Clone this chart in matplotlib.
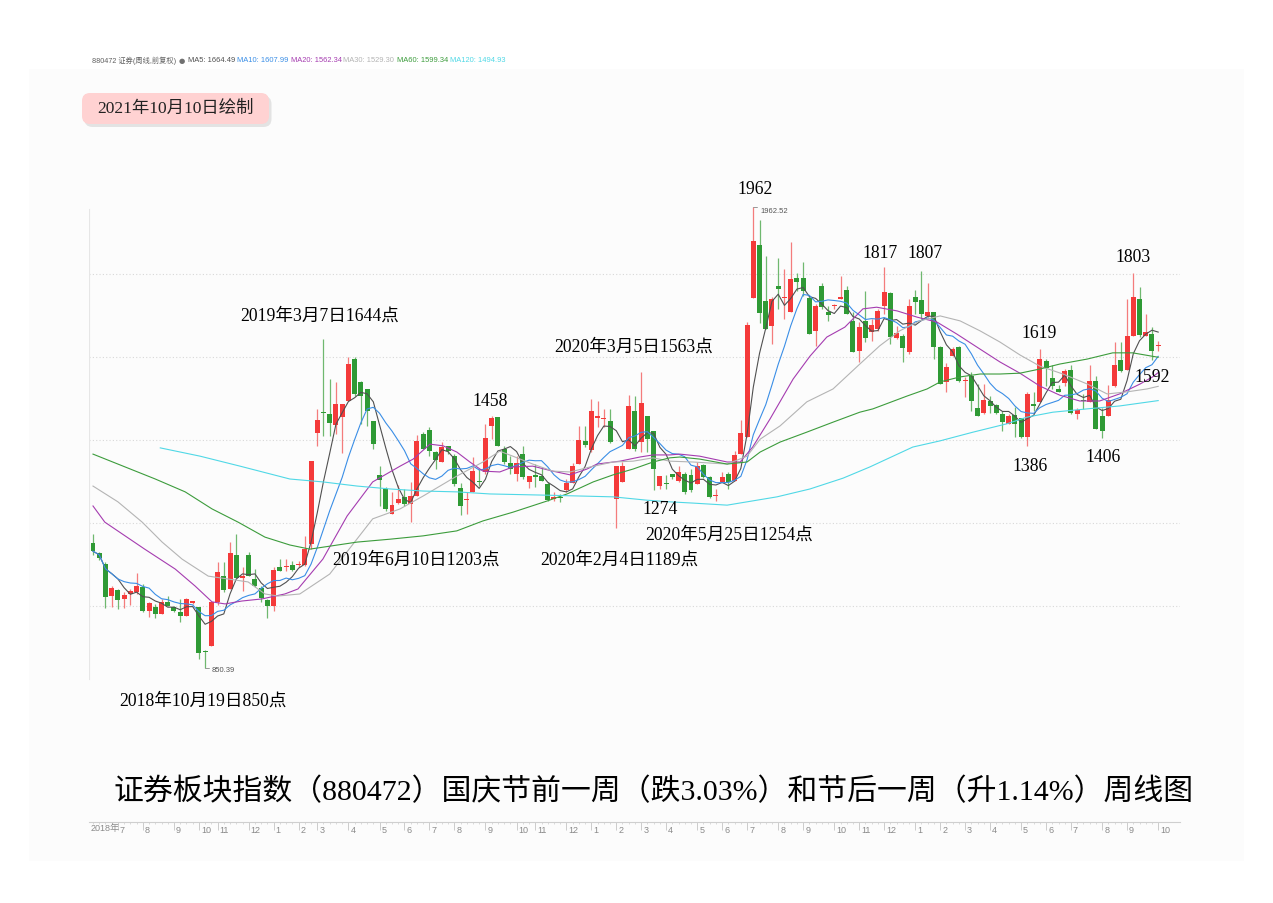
import numpy as np
import pandas as pd
import matplotlib
matplotlib.use('Agg')
import matplotlib.pyplot as plt
from matplotlib.patches import Rectangle, FancyBboxPatch
from matplotlib.transforms import ScaledTranslation

W, H = 1273, 904

# weekly OHLC, 2018-06 .. 2021-10
opens = [1152, 1128, 1101, 1024, 1038, 1017, 1029, 1034, 1046, 988,
         998, 981, 1010, 998, 985, 976, 1007, 998, 891, 904,
         1010, 1072, 1041, 1123, 1067, 1123, 1065, 1043, 1014, 1000,
         1094, 1094, 1099, 1099, 1099, 1149, 1417, 1468, 1463, 1436,
         1455, 1494, 1595, 1540, 1523, 1446, 1316, 1282, 1222, 1248,
         1263, 1246, 1265, 1414, 1424, 1371, 1347, 1386, 1361, 1284,
         1256, 1275, 1301, 1323, 1434, 1455, 1378, 1345, 1318, 1366,
         1299, 1316, 1313, 1294, 1258, 1262, 1280, 1296, 1342, 1398,
         1376, 1453, 1451, 1446, 1258, 1299, 1378, 1470, 1395, 1458,
         1422, 1289, 1295, 1318, 1301, 1318, 1316, 1294, 1340, 1311,
         1265, 1299, 1318, 1301, 1366, 1407, 1742, 1870, 1735, 1675,
         1771, 1742, 1708, 1790, 1790, 1742, 1663, 1771, 1708, 1722,
         1740, 1761, 1687, 1615, 1687, 1660, 1667, 1723, 1754, 1646,
         1651, 1612, 1745, 1737, 1699, 1708, 1624, 1540, 1602, 1624,
         1541, 1554, 1477, 1465, 1494, 1484, 1463, 1439, 1460, 1453,
         1407, 1487, 1492, 1590, 1549, 1523, 1537, 1569, 1463, 1495,
         1492, 1542, 1458, 1458, 1530, 1593, 1569, 1651, 1740, 1651,
         1655, 1626]
highs = [1173, 1131, 1106, 1048, 1041, 1034, 1041, 1079, 1053, 1010,
         1005, 1017, 1024, 1000, 1017, 1019, 1012, 998, 894, 1010,
         1106, 1106, 1154, 1173, 1094, 1130, 1089, 1048, 1017, 1094,
         1113, 1113, 1108, 1108, 1169, 1349, 1475, 1644, 1547, 1540,
         1487, 1600, 1600, 1542, 1523, 1446, 1337, 1287, 1275, 1292,
         1282, 1299, 1412, 1419, 1431, 1373, 1395, 1386, 1366, 1296,
         1275, 1359, 1330, 1439, 1458, 1455, 1386, 1361, 1361, 1386,
         1313, 1342, 1335, 1299, 1275, 1270, 1306, 1345, 1434, 1434,
         1499, 1494, 1475, 1475, 1337, 1347, 1508, 1506, 1563, 1458,
         1422, 1313, 1316, 1318, 1337, 1323, 1330, 1347, 1342, 1313,
         1282, 1323, 1323, 1373, 1448, 1684, 1962.52, 1930, 1843, 1745,
         1839, 1812, 1877, 1802, 1829, 1747, 1728, 1778, 1723, 1728,
         1795, 1771, 1708, 1684, 1759, 1692, 1716, 1817, 1757, 1675,
         1655, 1740, 1761, 1807, 1778, 1708, 1627, 1586, 1624, 1627,
         1552, 1564, 1535, 1535, 1506, 1487, 1470, 1463, 1480, 1453,
         1516, 1516, 1619, 1595, 1581, 1532, 1571, 1581, 1477, 1511,
         1581, 1554, 1477, 1532, 1636, 1636, 1740, 1803, 1769, 1704,
         1672, 1639]
lows = [1123, 1111, 995, 998, 993, 995, 1002, 1029, 985, 973,
        971, 981, 1000, 985, 961, 976, 1005, 872, 850.39, 904,
        1002, 1034, 1041, 1067, 1036, 1072, 1046, 1010, 971, 988,
        1084, 1084, 1084, 1094, 1096, 1137, 1386, 1410, 1410, 1414,
        1369, 1494, 1506, 1439, 1434, 1378, 1241, 1229, 1222, 1246,
        1241, 1203, 1265, 1378, 1361, 1330, 1347, 1366, 1289, 1219,
        1222, 1275, 1289, 1318, 1402, 1386, 1342, 1318, 1301, 1306,
        1284, 1287, 1301, 1253, 1253, 1251, 1275, 1296, 1342, 1383,
        1371, 1431, 1431, 1393, 1189, 1299, 1378, 1373, 1371, 1371,
        1280, 1282, 1282, 1306, 1299, 1270, 1274, 1294, 1308, 1260,
        1254, 1299, 1282, 1301, 1366, 1407, 1742, 1682, 1667, 1631,
        1716, 1692, 1708, 1759, 1747, 1655, 1627, 1716, 1687, 1716,
        1740, 1704, 1612, 1588, 1636, 1639, 1663, 1704, 1631, 1643,
        1588, 1607, 1704, 1692, 1696, 1595, 1535, 1516, 1602, 1540,
        1504, 1470, 1458, 1463, 1465, 1463, 1422, 1439, 1407, 1405,
        1386, 1470, 1492, 1530, 1523, 1516, 1530, 1463, 1451, 1475,
        1492, 1426, 1406, 1458, 1528, 1564, 1569, 1651, 1648, 1651,
        1592, 1614]
closes = [1132, 1115, 1022, 1043, 1014, 1026, 1036, 1048, 988, 1007,
          981, 1010, 1000, 988, 976, 1017, 1012, 887, 888, 1010,
          1082, 1038, 1128, 1067, 1072, 1072, 1048, 1019, 1000, 1087,
          1084, 1096, 1087, 1101, 1137, 1349, 1448, 1465, 1441, 1487,
          1487, 1583, 1511, 1506, 1470, 1390, 1304, 1234, 1243, 1258,
          1246, 1265, 1398, 1378, 1373, 1352, 1383, 1373, 1294, 1241,
          1258, 1325, 1299, 1405, 1453, 1386, 1347, 1330, 1345, 1311,
          1313, 1311, 1301, 1255, 1263, 1260, 1296, 1337, 1400, 1388,
          1470, 1458, 1452, 1395, 1337, 1337, 1482, 1378, 1489, 1402,
          1330, 1313, 1293, 1311, 1323, 1275, 1280, 1337, 1311, 1263,
          1267, 1311, 1299, 1364, 1417, 1677, 1880, 1706, 1667, 1740,
          1764, 1745, 1788, 1781, 1759, 1655, 1723, 1720, 1701, 1725,
          1745, 1704, 1612, 1672, 1646, 1677, 1711, 1757, 1648, 1658,
          1622, 1723, 1733, 1704, 1708, 1624, 1535, 1576, 1619, 1542,
          1543, 1494, 1458, 1496, 1482, 1465, 1443, 1458, 1439, 1407,
          1511, 1482, 1595, 1574, 1530, 1516, 1566, 1465, 1472, 1493,
          1542, 1426, 1422, 1496, 1581, 1566, 1651, 1745, 1653, 1660,
          1614, 1628]

# slower moving averages (candle index, value)
ma20_idx = [0, 1.9, 8.3, 13.2, 16.4, 19.1, 21.2, 23.9, 27.1, 30.8, 32.9, 36.9,
            40.8, 44.9, 49.3, 51.4, 54.1, 56.2, 58.4, 60.5, 62.6, 65.3, 67.4,
            70.6, 73.8, 76.6, 79.3, 80.9, 84.6, 87.8, 89.9, 92.6, 94.2, 97.4,
            101.8, 103.9, 105.9, 108.7, 112.4, 115.1, 117.8, 120.7, 123.6,
            125.8, 129.1, 132.3, 135.5, 138.7, 142.4, 145.6, 148.8, 152, 155.2,
            158.4, 161.6, 164.8, 168.1, 170.1, 171]
ma20_val = [1241, 1202, 1137, 1089, 1048, 1010, 1005, 1012, 1017, 1029, 1041,
            1113, 1217, 1299, 1337, 1354, 1390, 1386, 1371, 1347, 1325, 1323,
            1335, 1337, 1325, 1316, 1330, 1342, 1349, 1359, 1364, 1364, 1366,
            1361, 1347, 1347, 1383, 1451, 1547, 1602, 1648, 1672, 1716, 1720,
            1711, 1696, 1684, 1655, 1619, 1588, 1561, 1530, 1508, 1494, 1494,
            1511, 1535, 1552, 1562.34]
ma30_idx = [0, 4, 7.9, 11.1, 14.3, 18.5, 21.7, 24.9, 27.6, 29.7, 33.2, 38,
            44.9, 49.3, 53, 58.4, 62.6, 65.3, 67.4, 70.6, 73.8, 76.6, 79.8,
            83.5, 86.7, 89.9, 92.6, 96.3, 101.8, 105, 107.1, 110.3, 114.6,
            118.8, 123.1, 126.3, 129.5, 132.7, 136, 139.2, 142.4, 145.6, 148.8,
            152, 155.7, 159.6, 162.8, 166, 169.2, 171]
ma30_val = [1289, 1251, 1202, 1154, 1113, 1072, 1065, 1058, 1029, 1024, 1029,
            1077, 1210, 1234, 1265, 1313, 1347, 1373, 1361, 1342, 1325, 1323,
            1335, 1347, 1349, 1357, 1349, 1347, 1342, 1361, 1402, 1434, 1492,
            1523, 1583, 1627, 1663, 1687, 1699, 1687, 1663, 1636, 1605, 1578,
            1559, 1535, 1511, 1516, 1523, 1529.30]
ma60_idx = [0, 10, 14.8, 19.1, 23.3, 27.6, 31.6, 34.8, 42.4, 47.7, 53, 58.4,
            62.6, 67.4, 72.9, 76.1, 80.3, 83.5, 86.7, 89.9, 92.6, 94.2, 97.4,
            101.8, 105, 107.1, 110.3, 114.6, 118.8, 123.1, 125.2, 130.7, 133.9,
            136, 139.2, 142.4, 145.6, 148.8, 152, 155.2, 159.6, 163.7, 166.9, 171]
ma60_val = [1366, 1306, 1275, 1234, 1202, 1166, 1147, 1137, 1154, 1161, 1169,
            1181, 1205, 1226, 1253, 1270, 1299, 1316, 1330, 1347, 1357, 1359,
            1354, 1342, 1347, 1371, 1395, 1419, 1443, 1467, 1475, 1506, 1523,
            1540, 1552, 1559, 1559, 1561, 1571, 1583, 1595, 1610, 1610, 1599.34]
ma120_idx = [10.8, 17.2, 23.6, 31.6, 36.9, 42.4, 47.7, 53, 58.4, 63.7, 72.9,
             78.2, 83.5, 88.9, 92.6, 96.3, 101.8, 105, 109.8, 115.1, 120.4,
             124.7, 131.6, 136, 141.3, 146.7, 149.9, 154.1, 159.6, 164.8, 171]
ma120_val = [1381, 1361, 1337, 1306, 1299, 1289, 1282, 1277, 1275, 1270, 1267,
             1265, 1263, 1255, 1251, 1248, 1243, 1251, 1263, 1282, 1308, 1335,
             1383, 1398, 1419, 1439, 1455, 1467, 1475, 1482, 1494.93]

month_idx = [4, 8, 13, 17, 20, 25, 29, 33, 36, 41, 46, 50, 54, 58, 63, 68, 71,
             76, 80, 84, 88, 92, 97, 101, 105, 110, 114, 119, 123, 127, 132,
             136, 140, 144, 149, 153, 157, 162, 166, 171]
month_lbl = ['7', '8', '9', '10', '11', '12', '1', '2', '3', '4', '5', '6',
             '7', '8', '9', '10', '11', '12', '1', '2', '3', '4', '5', '6',
             '7', '8', '9', '10', '11', '12', '1', '2', '3', '4', '5', '6',
             '7', '8', '9', '10']

legend_names = ['MA5', 'MA10', 'MA20', 'MA30', 'MA60', 'MA120']
legend_vals = [1664.49, 1607.99, 1562.34, 1529.30, 1599.34, 1494.93]
ma_colors = ['#505050', '#3a8ee6', '#a53cb0', '#b4b4b4', '#3c9c3c', '#50d8e6']

# price labels placed on the chart: (text, x px, y px)
notes = [('1962', 755, 189), ('1817', 880, 254), ('1807', 925, 254),
         ('1803', 1133, 257), ('1619', 1039, 333), ('1592', 1152, 377),
         ('1386', 1030, 467), ('1406', 1103, 457), ('1274', 660, 510),
         ('1458', 490, 401),
         ('2019年3月7日1644点', 320, 316), ('2020年3月5日1563点', 634, 347),
         ('2019年6月10日1203点', 416, 560), ('2020年2月4日1189点', 619, 560),
         ('2020年5月25日1254点', 729, 535), ('2018年10月19日850点', 203, 701)]

title = '证券板块指数（880472）国庆节前一周（跌3.03%）和节后一周（升1.14%）周线图'
serif_cjk = ['Liberation Serif', 'Noto Sans CJK SC']
sans_cjk = ['Liberation Sans', 'Noto Sans CJK SC']

RED = '#f43a3a'
GREEN = '#2f9a35'


def fx(x):
    return x / W


def fy(y):
    return 1 - y / H


fig = plt.figure(figsize=(W / 100, H / 100), dpi=100)
fig.patch.set_facecolor('white')
fig.patches.append(Rectangle((fx(29), fy(862)), fx(1244) - fx(29), fy(70) - fy(862),
                             transform=fig.transFigure, facecolor='#fcfcfc',
                             edgecolor='none', zorder=-10))

# main price panel
x0, x1 = -0.642, 174.5
ax = fig.add_axes([fx(89), fy(690), fx(1180) - fx(89), fy(180) - fy(690)])
ax.set_zorder(2)
ax.set_xlim(x0, x1)
ax.set_ylim(800, 2028.9)
ax.axis('off')
ax.patch.set_alpha(0)

for g in [1000, 1200, 1400, 1600, 1800]:
    ax.axhline(g, color='#d8d8d8', lw=0.8, ls=(0, (1, 2)), zorder=1)
ax.plot([x0 + 0.05, x0 + 0.05], [824, 1956], color='#e6e6e6', lw=0.8, zorder=1)

o = np.array(opens, dtype=float)
c = np.array(closes, dtype=float)
hi = np.array(highs, dtype=float)
lo = np.array(lows, dtype=float)
idx = np.arange(len(c))
up = c >= o
body_col = np.where(up, RED, GREEN)
wick_col = np.where(up, '#f47c7c', '#6fb86f')

ax.vlines(idx, lo, hi, colors=wick_col, lw=0.9, zorder=2)
ax.bar(idx, np.maximum(np.abs(c - o), 2.5), bottom=np.minimum(o, c), width=0.8,
       color=body_col, zorder=3)

# moving averages
s = pd.Series(c)
ax.plot(idx, s.rolling(5, min_periods=1).mean(), color=ma_colors[0], lw=0.8, zorder=4)
ax.plot(idx, s.rolling(10, min_periods=1).mean(), color=ma_colors[1], lw=0.8, zorder=4)
ax.plot(ma20_idx, ma20_val, color=ma_colors[2], lw=0.8, zorder=4)
ax.plot(ma30_idx, ma30_val, color=ma_colors[3], lw=0.8, zorder=4)
ax.plot(ma60_idx, ma60_val, color=ma_colors[4], lw=0.8, zorder=4)
ax.plot(ma120_idx, ma120_val, color=ma_colors[5], lw=0.8, zorder=4)

# high / low markers
i_hi = int(np.argmax(hi))
i_lo = int(np.argmin(lo))
for i_m, val, dy in [(i_hi, hi[i_hi], -3), (i_lo, lo[i_lo], -1)]:
    ax.annotate('%.2f' % val, xy=(i_m, val), xytext=(5, dy),
                textcoords='offset points', fontsize=5.5, color='#555555',
                va='center', ha='left', family=sans_cjk,
                arrowprops=dict(arrowstyle='-', color='#888888', lw=0.6,
                                shrinkA=0, shrinkB=0,
                                connectionstyle='angle,angleA=90,angleB=0'))

# bottom time axis
ax2 = fig.add_axes([fx(89), fy(823), fx(1180) - fx(89), 0.0005])
ax2.set_zorder(2)
ax2.set_xlim(x0, x1)
ax2.patch.set_alpha(0)
ax2.set_yticks([])
for side in ['top', 'left', 'right']:
    ax2.spines[side].set_visible(False)
ax2.spines['bottom'].set_color('#cfcfcf')
ax2.set_xticks(month_idx)
ax2.set_xticklabels(month_lbl)
ax2.set_xticks(idx, minor=True)
ax2.tick_params(axis='x', which='major', length=6, width=0.6, color='#c4c4c4',
                labelsize=6.5, labelcolor='#8a8a8a', pad=-4)
ax2.tick_params(axis='x', which='minor', length=1.5, width=0.5, color='#cccccc')
offset = ScaledTranslation(2 / 100, 0, fig.dpi_scale_trans)
for lab in ax2.get_xticklabels():
    lab.set_ha('left')
    lab.set_family(sans_cjk)
    lab.set_transform(lab.get_transform() + offset)
fig.text(fx(91), fy(829), '2018年', fontsize=6.5, color='#8a8a8a', ha='left',
         va='center', family=sans_cjk)

# legend row at top
fig.text(fx(92), fy(61), '880472 证券(周线,前复权)', fontsize=5.2, color='#606060',
         ha='left', va='center', family=sans_cjk)
fig.text(fx(179), fy(61), '●', fontsize=5.2, color='#707070', ha='left', va='center',
         family=['DejaVu Sans'])
leg_x = [188, 237, 291, 343, 397, 450]
for name, val, col, lx in zip(legend_names, legend_vals, ma_colors, leg_x):
    fig.text(fx(lx), fy(61), '%s: %.2f' % (name, val), fontsize=5.4, color=col,
             ha='left', va='center', family=sans_cjk)

# date badge
shadow = FancyBboxPatch((0.845, (H - 128) / 100), 1.87, 0.31,
                        boxstyle='round,pad=0,rounding_size=0.08',
                        transform=fig.dpi_scale_trans, facecolor='#d9d9d9',
                        edgecolor='none', alpha=0.7, zorder=1)
badge = FancyBboxPatch((0.82, (H - 125) / 100), 1.87, 0.31,
                       boxstyle='round,pad=0,rounding_size=0.08',
                       transform=fig.dpi_scale_trans, facecolor='#ffd2d2',
                       edgecolor='none', zorder=2)
fig.patches.extend([shadow, badge])
fig.text(fx(176), fy(109), '2021年10月10日绘制', fontsize=12.5, color='#222222',
         ha='center', va='center', family=serif_cjk, zorder=3)

for txt, px, py in notes:
    fig.text(fx(px), fy(py), txt, fontsize=12.7, color='black', ha='center',
             va='center', family=serif_cjk, zorder=5)

fig.text(fx(654), fy(792), title, fontsize=21.5, color='black', ha='center',
         va='center', family=serif_cjk)

fig.savefig('out.png', dpi=100, facecolor='white')
